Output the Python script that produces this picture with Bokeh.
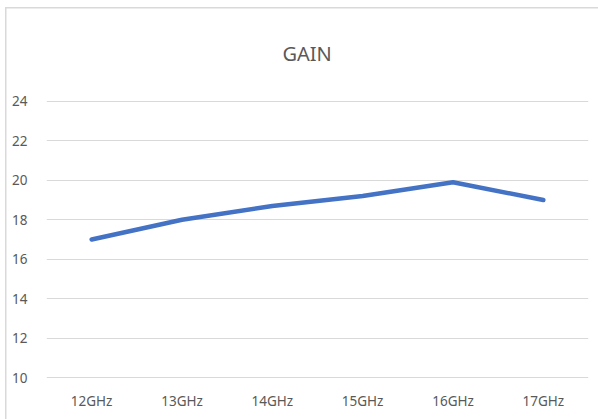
from bokeh.plotting import figure
from bokeh.embed import file_html
from bokeh.resources import INLINE
from bokeh.models import FixedTicker

categories = ["12GHz", "13GHz", "14GHz", "15GHz", "16GHz", "17GHz"]
gain = [17.0, 18.0, 18.7, 19.2, 19.9, 19.0]
y_ticks = [10, 12, 14, 16, 18, 20, 22, 24]
title_text = "GAIN"

FONT = "Noto Sans"
GREY = "#595959"

p = figure(width=598, height=419, x_range=categories, y_range=(9.96, 24.04),
           output_backend="svg", toolbar_location=None,
           min_border_left=46, min_border_right=10,
           min_border_top=100, min_border_bottom=41)

p.line(categories, gain, line_color="#4472C4", line_width=4.5, line_cap="round", line_join="round")

p.title.text = title_text
p.title.align = "left"
p.title.offset = 236
p.title.standoff = 67
p.title.text_font = FONT
p.title.text_font_size = "20px"
p.title.text_font_style = "normal"
p.title.text_color = GREY

p.outline_line_color = None
p.background_fill_color = "white"
p.border_fill_alpha = 0
# light-grey chart-area border on the left and top edges
p.styles = {
    "background": ("linear-gradient(#d9d9d9,#d9d9d9) 5px 7px / 1.5px 100% no-repeat, "
                   "linear-gradient(#d9d9d9,#d9d9d9) 5px 7px / 100% 1.5px no-repeat, white"),
}

p.xgrid.grid_line_color = None
p.ygrid.grid_line_color = "#d9d9d9"
p.ygrid.grid_line_width = 1

p.yaxis.ticker = FixedTicker(ticks=y_ticks)
for ax in (p.xaxis, p.yaxis):
    ax.axis_line_color = None
    ax.major_tick_line_color = None
    ax.minor_tick_line_color = None
    ax.major_label_text_font = FONT
    ax.major_label_text_font_size = "13.5px"
    ax.major_label_text_color = GREY
p.yaxis.major_label_standoff = 13
p.xaxis.major_label_standoff = 7
p.x_range.range_padding = 0

open("out.html", "w").write(file_html(p, INLINE))
